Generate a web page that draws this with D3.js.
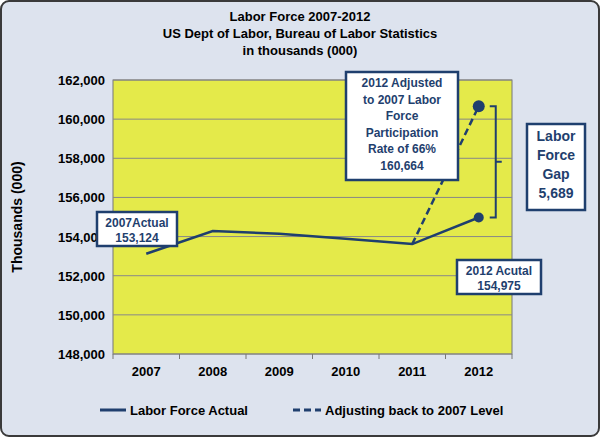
<!DOCTYPE html>
<html><head><meta charset="utf-8">
<script src="https://cdn.jsdelivr.net/npm/d3@7"></script>
<style>body{margin:0;background:#fff}svg{display:block;font-family:"Liberation Sans",Arial,sans-serif}</style>
</head><body><svg id="c" width="600" height="437"></svg>
<script>
const years=["2007","2008","2009","2010","2011","2012"];
const actual=[153124,154287,154142,153889,153617,154975];
const adjustedYears=["2011","2012"];
const adjusted=[153617,160664];
const yTicks=[148000,150000,152000,154000,156000,158000,160000,162000];
const titleLines=["Labor Force 2007-2012","US Dept of Labor, Bureau of Labor Statistics","in thousands (000)"];
const navy="#1f3f6e";
const svg=d3.select("#c");
svg.append("rect").attr("x",1).attr("y",1).attr("width",598).attr("height",435).attr("rx",8).attr("fill","#dde3ee").attr("stroke","#3a3a3a").attr("stroke-width",2);
const L=113,R=512,T=80,B=354;
const x=d3.scalePoint().domain(years).range([L,R]).padding(0.5);
const y=d3.scaleLinear().domain([148000,162000]).range([B,T]);
svg.append("rect").attr("x",L).attr("y",T).attr("width",R-L).attr("height",B-T).attr("fill","#e4ea4a").attr("stroke","#777");
svg.append("g").selectAll("line").data(yTicks).join("line").attr("x1",L).attr("x2",R).attr("y1",d=>y(d)).attr("y2",d=>y(d)).attr("stroke","#888").attr("stroke-width",1);
svg.append("g").selectAll("text").data(yTicks).join("text").attr("x",L-8).attr("y",d=>y(d)+5).attr("text-anchor","end").attr("font-size",13).attr("font-weight","bold").text(d3.format(","));
svg.append("g").selectAll("text").data(years).join("text").attr("x",d=>x(d)).attr("y",B+22).attr("text-anchor","middle").attr("font-size",13).attr("font-weight","bold").text(d=>d);
svg.append("g").selectAll("line").data(d3.range(years.length+1)).join("line").attr("x1",i=>L+i*(R-L)/years.length).attr("x2",i=>L+i*(R-L)/years.length).attr("y1",B).attr("y2",B+5).attr("stroke","#777");
svg.append("text").attr("transform",`translate(22,${(T+B)/2}) rotate(-90)`).attr("text-anchor","middle").attr("font-size",14).attr("font-weight","bold").text("Thousands (000)");
titleLines.forEach((t,i)=>svg.append("text").attr("x",300).attr("y",21+i*17).attr("text-anchor","middle").attr("font-size",13).attr("font-weight","bold").text(t));
const line=d3.line().x((d,i,a)=>x(d[0])).y(d=>y(d[1]));
svg.append("path").attr("d",line(d3.zip(adjustedYears,adjusted))).attr("fill","none").attr("stroke",navy).attr("stroke-width",2.5).attr("stroke-dasharray","7,4");
svg.append("path").attr("d",line(d3.zip(years,actual))).attr("fill","none").attr("stroke",navy).attr("stroke-width",2.5);
svg.append("circle").attr("cx",x("2012")).attr("cy",y(actual[5])).attr("r",5).attr("fill",navy);
svg.append("circle").attr("cx",x("2012")).attr("cy",y(adjusted[1])).attr("r",6).attr("fill",navy);
// bracket
const bx=x("2012")+17;
svg.append("path").attr("d",`M${bx-6},${y(adjusted[1])}H${bx}V${y(actual[5])}H${bx-6}M${bx},${(y(adjusted[1])+y(actual[5]))/2}H${bx+6}`).attr("fill","none").attr("stroke",navy).attr("stroke-width",2);
function box(x0,y0,w,h,lines,fs,lh){
 svg.append("rect").attr("x",x0).attr("y",y0).attr("width",w).attr("height",h).attr("fill","#fff").attr("stroke",navy).attr("stroke-width",2.5);
 lines.forEach((t,i)=>svg.append("text").attr("x",x0+w/2).attr("y",y0+fs+3+i*lh).attr("text-anchor","middle").attr("font-size",fs).attr("font-weight","bold").attr("fill",navy).text(t));
}
box(346,72,112,108,["2012 Adjusted","to 2007 Labor","Force","Participation","Rate of 66%","160,664"],12,16.5);
box(527,124,58,86,["Labor","Force","Gap","5,689"],14,19);
box(97,212,80,34,["2007Actual","153,124"],12,15);
box(457,260,84,34,["2012 Acutal","154,975"],12,15);
// legend
svg.append("line").attr("x1",100).attr("x2",126).attr("y1",410).attr("y2",410).attr("stroke",navy).attr("stroke-width",3);
svg.append("text").attr("x",130).attr("y",415).attr("font-size",13).attr("font-weight","bold").text("Labor Force Actual");
svg.append("line").attr("x1",293).attr("x2",321).attr("y1",410).attr("y2",410).attr("stroke",navy).attr("stroke-width",3).attr("stroke-dasharray","7,4");
svg.append("text").attr("x",325).attr("y",415).attr("font-size",13).attr("font-weight","bold").text("Adjusting back to 2007 Level");
</script></body></html>
